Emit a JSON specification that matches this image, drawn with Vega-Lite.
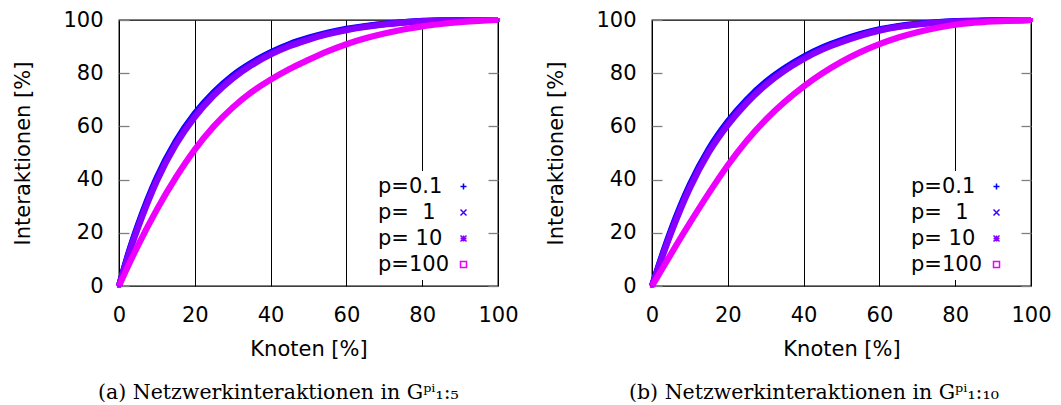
{
  "$schema": "https://vega.github.io/schema/vega-lite/v6.json",
  "background": "white",
  "padding": {"left": 12, "top": 6, "right": 0, "bottom": 0},
  "config": {
    "font": "DejaVu Sans",
    "view": {"stroke": "black", "strokeWidth": 1.3},
    "axis": {
      "labelFont": "DejaVu Sans",
      "labelFontSize": 21,
      "labelColor": "black",
      "titleFont": "DejaVu Sans",
      "titleFontSize": 21,
      "titleFontWeight": "normal",
      "titleColor": "black",
      "labelFlush": false,
      "labelOverlap": false
    },
    "legend": {
      "labelFont": "DejaVu Sans",
      "labelFontSize": 21,
      "labelColor": "black",
      "labelLimit": 0,
      "titleFont": "DejaVu Sans",
      "titleFontSize": 21
    },
    "title": {"font": "DejaVu Serif", "fontSize": 20.5, "fontWeight": "normal", "color": "black"}
  },
  "data": {
    "values": [
      {"teil": "a", "serie": "p=0.1", "knoten": 0, "interaktionen": 0},
      {"teil": "a", "serie": "p=0.1", "knoten": 2.5, "interaktionen": 12.4},
      {"teil": "a", "serie": "p=0.1", "knoten": 5, "interaktionen": 23.0},
      {"teil": "a", "serie": "p=0.1", "knoten": 10, "interaktionen": 40.9},
      {"teil": "a", "serie": "p=0.1", "knoten": 15, "interaktionen": 54.5},
      {"teil": "a", "serie": "p=0.1", "knoten": 20, "interaktionen": 64.9},
      {"teil": "a", "serie": "p=0.1", "knoten": 25, "interaktionen": 72.9},
      {"teil": "a", "serie": "p=0.1", "knoten": 30, "interaktionen": 79.2},
      {"teil": "a", "serie": "p=0.1", "knoten": 35, "interaktionen": 84.0},
      {"teil": "a", "serie": "p=0.1", "knoten": 40, "interaktionen": 87.9},
      {"teil": "a", "serie": "p=0.1", "knoten": 45, "interaktionen": 90.95},
      {"teil": "a", "serie": "p=0.1", "knoten": 50, "interaktionen": 93.3},
      {"teil": "a", "serie": "p=0.1", "knoten": 55, "interaktionen": 95.2},
      {"teil": "a", "serie": "p=0.1", "knoten": 60, "interaktionen": 96.65},
      {"teil": "a", "serie": "p=0.1", "knoten": 65, "interaktionen": 97.75},
      {"teil": "a", "serie": "p=0.1", "knoten": 70, "interaktionen": 98.6},
      {"teil": "a", "serie": "p=0.1", "knoten": 75, "interaktionen": 99.2},
      {"teil": "a", "serie": "p=0.1", "knoten": 80, "interaktionen": 99.7},
      {"teil": "a", "serie": "p=0.1", "knoten": 85, "interaktionen": 99.85},
      {"teil": "a", "serie": "p=0.1", "knoten": 90, "interaktionen": 100},
      {"teil": "a", "serie": "p=0.1", "knoten": 95, "interaktionen": 100},
      {"teil": "a", "serie": "p=0.1", "knoten": 100, "interaktionen": 100},
      {"teil": "a", "serie": "p=\u00a0\u00a01", "knoten": 0, "interaktionen": 0},
      {"teil": "a", "serie": "p=\u00a0\u00a01", "knoten": 2.5, "interaktionen": 12.0},
      {"teil": "a", "serie": "p=\u00a0\u00a01", "knoten": 5, "interaktionen": 22.4},
      {"teil": "a", "serie": "p=\u00a0\u00a01", "knoten": 10, "interaktionen": 40.2},
      {"teil": "a", "serie": "p=\u00a0\u00a01", "knoten": 15, "interaktionen": 53.8},
      {"teil": "a", "serie": "p=\u00a0\u00a01", "knoten": 20, "interaktionen": 64.2},
      {"teil": "a", "serie": "p=\u00a0\u00a01", "knoten": 25, "interaktionen": 72.25},
      {"teil": "a", "serie": "p=\u00a0\u00a01", "knoten": 30, "interaktionen": 78.6},
      {"teil": "a", "serie": "p=\u00a0\u00a01", "knoten": 35, "interaktionen": 83.5},
      {"teil": "a", "serie": "p=\u00a0\u00a01", "knoten": 40, "interaktionen": 87.45},
      {"teil": "a", "serie": "p=\u00a0\u00a01", "knoten": 45, "interaktionen": 90.55},
      {"teil": "a", "serie": "p=\u00a0\u00a01", "knoten": 50, "interaktionen": 92.95},
      {"teil": "a", "serie": "p=\u00a0\u00a01", "knoten": 55, "interaktionen": 94.9},
      {"teil": "a", "serie": "p=\u00a0\u00a01", "knoten": 60, "interaktionen": 96.4},
      {"teil": "a", "serie": "p=\u00a0\u00a01", "knoten": 65, "interaktionen": 97.55},
      {"teil": "a", "serie": "p=\u00a0\u00a01", "knoten": 70, "interaktionen": 98.45},
      {"teil": "a", "serie": "p=\u00a0\u00a01", "knoten": 75, "interaktionen": 99.1},
      {"teil": "a", "serie": "p=\u00a0\u00a01", "knoten": 80, "interaktionen": 99.6},
      {"teil": "a", "serie": "p=\u00a0\u00a01", "knoten": 85, "interaktionen": 99.8},
      {"teil": "a", "serie": "p=\u00a0\u00a01", "knoten": 90, "interaktionen": 99.95},
      {"teil": "a", "serie": "p=\u00a0\u00a01", "knoten": 95, "interaktionen": 100},
      {"teil": "a", "serie": "p=\u00a0\u00a01", "knoten": 100, "interaktionen": 100},
      {"teil": "a", "serie": "p=\u00a010", "knoten": 0, "interaktionen": 0},
      {"teil": "a", "serie": "p=\u00a010", "knoten": 2.5, "interaktionen": 11.6},
      {"teil": "a", "serie": "p=\u00a010", "knoten": 5, "interaktionen": 21.8},
      {"teil": "a", "serie": "p=\u00a010", "knoten": 10, "interaktionen": 39.5},
      {"teil": "a", "serie": "p=\u00a010", "knoten": 15, "interaktionen": 53.1},
      {"teil": "a", "serie": "p=\u00a010", "knoten": 20, "interaktionen": 63.5},
      {"teil": "a", "serie": "p=\u00a010", "knoten": 25, "interaktionen": 71.6},
      {"teil": "a", "serie": "p=\u00a010", "knoten": 30, "interaktionen": 78.0},
      {"teil": "a", "serie": "p=\u00a010", "knoten": 35, "interaktionen": 83.0},
      {"teil": "a", "serie": "p=\u00a010", "knoten": 40, "interaktionen": 87.0},
      {"teil": "a", "serie": "p=\u00a010", "knoten": 45, "interaktionen": 90.15},
      {"teil": "a", "serie": "p=\u00a010", "knoten": 50, "interaktionen": 92.6},
      {"teil": "a", "serie": "p=\u00a010", "knoten": 55, "interaktionen": 94.6},
      {"teil": "a", "serie": "p=\u00a010", "knoten": 60, "interaktionen": 96.15},
      {"teil": "a", "serie": "p=\u00a010", "knoten": 65, "interaktionen": 97.35},
      {"teil": "a", "serie": "p=\u00a010", "knoten": 70, "interaktionen": 98.3},
      {"teil": "a", "serie": "p=\u00a010", "knoten": 75, "interaktionen": 99.0},
      {"teil": "a", "serie": "p=\u00a010", "knoten": 80, "interaktionen": 99.5},
      {"teil": "a", "serie": "p=\u00a010", "knoten": 85, "interaktionen": 99.75},
      {"teil": "a", "serie": "p=\u00a010", "knoten": 90, "interaktionen": 99.9},
      {"teil": "a", "serie": "p=\u00a010", "knoten": 95, "interaktionen": 100},
      {"teil": "a", "serie": "p=\u00a010", "knoten": 100, "interaktionen": 100},
      {"teil": "a", "serie": "p=100", "knoten": 0, "interaktionen": 0},
      {"teil": "a", "serie": "p=100", "knoten": 2.5, "interaktionen": 7.8},
      {"teil": "a", "serie": "p=100", "knoten": 5, "interaktionen": 15.2},
      {"teil": "a", "serie": "p=100", "knoten": 10, "interaktionen": 28.8},
      {"teil": "a", "serie": "p=100", "knoten": 15, "interaktionen": 40.8},
      {"teil": "a", "serie": "p=100", "knoten": 20, "interaktionen": 51.3},
      {"teil": "a", "serie": "p=100", "knoten": 25, "interaktionen": 60.0},
      {"teil": "a", "serie": "p=100", "knoten": 30, "interaktionen": 67.1},
      {"teil": "a", "serie": "p=100", "knoten": 35, "interaktionen": 72.9},
      {"teil": "a", "serie": "p=100", "knoten": 40, "interaktionen": 77.6},
      {"teil": "a", "serie": "p=100", "knoten": 45, "interaktionen": 81.6},
      {"teil": "a", "serie": "p=100", "knoten": 50, "interaktionen": 85.0},
      {"teil": "a", "serie": "p=100", "knoten": 55, "interaktionen": 88.2},
      {"teil": "a", "serie": "p=100", "knoten": 60, "interaktionen": 90.9},
      {"teil": "a", "serie": "p=100", "knoten": 65, "interaktionen": 93.1},
      {"teil": "a", "serie": "p=100", "knoten": 70, "interaktionen": 94.9},
      {"teil": "a", "serie": "p=100", "knoten": 75, "interaktionen": 96.4},
      {"teil": "a", "serie": "p=100", "knoten": 80, "interaktionen": 97.6},
      {"teil": "a", "serie": "p=100", "knoten": 85, "interaktionen": 98.5},
      {"teil": "a", "serie": "p=100", "knoten": 90, "interaktionen": 99.2},
      {"teil": "a", "serie": "p=100", "knoten": 95, "interaktionen": 99.7},
      {"teil": "a", "serie": "p=100", "knoten": 100, "interaktionen": 100},
      {"teil": "b", "serie": "p=0.1", "knoten": 0, "interaktionen": 0},
      {"teil": "b", "serie": "p=0.1", "knoten": 2.5, "interaktionen": 10.9},
      {"teil": "b", "serie": "p=0.1", "knoten": 5, "interaktionen": 21.0},
      {"teil": "b", "serie": "p=0.1", "knoten": 10, "interaktionen": 38.2},
      {"teil": "b", "serie": "p=0.1", "knoten": 15, "interaktionen": 51.6},
      {"teil": "b", "serie": "p=0.1", "knoten": 20, "interaktionen": 61.9},
      {"teil": "b", "serie": "p=0.1", "knoten": 25, "interaktionen": 70.1},
      {"teil": "b", "serie": "p=0.1", "knoten": 30, "interaktionen": 76.7},
      {"teil": "b", "serie": "p=0.1", "knoten": 35, "interaktionen": 81.9},
      {"teil": "b", "serie": "p=0.1", "knoten": 40, "interaktionen": 86.2},
      {"teil": "b", "serie": "p=0.1", "knoten": 45, "interaktionen": 89.7},
      {"teil": "b", "serie": "p=0.1", "knoten": 50, "interaktionen": 92.4},
      {"teil": "b", "serie": "p=0.1", "knoten": 55, "interaktionen": 94.7},
      {"teil": "b", "serie": "p=0.1", "knoten": 60, "interaktionen": 96.5},
      {"teil": "b", "serie": "p=0.1", "knoten": 65, "interaktionen": 97.75},
      {"teil": "b", "serie": "p=0.1", "knoten": 70, "interaktionen": 98.6},
      {"teil": "b", "serie": "p=0.1", "knoten": 75, "interaktionen": 99.15},
      {"teil": "b", "serie": "p=0.1", "knoten": 80, "interaktionen": 99.55},
      {"teil": "b", "serie": "p=0.1", "knoten": 85, "interaktionen": 99.7},
      {"teil": "b", "serie": "p=0.1", "knoten": 90, "interaktionen": 99.9},
      {"teil": "b", "serie": "p=0.1", "knoten": 95, "interaktionen": 99.9},
      {"teil": "b", "serie": "p=0.1", "knoten": 100, "interaktionen": 100},
      {"teil": "b", "serie": "p=\u00a0\u00a01", "knoten": 0, "interaktionen": 0},
      {"teil": "b", "serie": "p=\u00a0\u00a01", "knoten": 2.5, "interaktionen": 10.5},
      {"teil": "b", "serie": "p=\u00a0\u00a01", "knoten": 5, "interaktionen": 20.4},
      {"teil": "b", "serie": "p=\u00a0\u00a01", "knoten": 10, "interaktionen": 37.5},
      {"teil": "b", "serie": "p=\u00a0\u00a01", "knoten": 15, "interaktionen": 50.9},
      {"teil": "b", "serie": "p=\u00a0\u00a01", "knoten": 20, "interaktionen": 61.2},
      {"teil": "b", "serie": "p=\u00a0\u00a01", "knoten": 25, "interaktionen": 69.45},
      {"teil": "b", "serie": "p=\u00a0\u00a01", "knoten": 30, "interaktionen": 76.1},
      {"teil": "b", "serie": "p=\u00a0\u00a01", "knoten": 35, "interaktionen": 81.4},
      {"teil": "b", "serie": "p=\u00a0\u00a01", "knoten": 40, "interaktionen": 85.75},
      {"teil": "b", "serie": "p=\u00a0\u00a01", "knoten": 45, "interaktionen": 89.3},
      {"teil": "b", "serie": "p=\u00a0\u00a01", "knoten": 50, "interaktionen": 92.05},
      {"teil": "b", "serie": "p=\u00a0\u00a01", "knoten": 55, "interaktionen": 94.4},
      {"teil": "b", "serie": "p=\u00a0\u00a01", "knoten": 60, "interaktionen": 96.25},
      {"teil": "b", "serie": "p=\u00a0\u00a01", "knoten": 65, "interaktionen": 97.55},
      {"teil": "b", "serie": "p=\u00a0\u00a01", "knoten": 70, "interaktionen": 98.45},
      {"teil": "b", "serie": "p=\u00a0\u00a01", "knoten": 75, "interaktionen": 99.05},
      {"teil": "b", "serie": "p=\u00a0\u00a01", "knoten": 80, "interaktionen": 99.45},
      {"teil": "b", "serie": "p=\u00a0\u00a01", "knoten": 85, "interaktionen": 99.65},
      {"teil": "b", "serie": "p=\u00a0\u00a01", "knoten": 90, "interaktionen": 99.85},
      {"teil": "b", "serie": "p=\u00a0\u00a01", "knoten": 95, "interaktionen": 99.9},
      {"teil": "b", "serie": "p=\u00a0\u00a01", "knoten": 100, "interaktionen": 100},
      {"teil": "b", "serie": "p=\u00a010", "knoten": 0, "interaktionen": 0},
      {"teil": "b", "serie": "p=\u00a010", "knoten": 2.5, "interaktionen": 10.1},
      {"teil": "b", "serie": "p=\u00a010", "knoten": 5, "interaktionen": 19.8},
      {"teil": "b", "serie": "p=\u00a010", "knoten": 10, "interaktionen": 36.8},
      {"teil": "b", "serie": "p=\u00a010", "knoten": 15, "interaktionen": 50.2},
      {"teil": "b", "serie": "p=\u00a010", "knoten": 20, "interaktionen": 60.5},
      {"teil": "b", "serie": "p=\u00a010", "knoten": 25, "interaktionen": 68.8},
      {"teil": "b", "serie": "p=\u00a010", "knoten": 30, "interaktionen": 75.5},
      {"teil": "b", "serie": "p=\u00a010", "knoten": 35, "interaktionen": 80.9},
      {"teil": "b", "serie": "p=\u00a010", "knoten": 40, "interaktionen": 85.3},
      {"teil": "b", "serie": "p=\u00a010", "knoten": 45, "interaktionen": 88.9},
      {"teil": "b", "serie": "p=\u00a010", "knoten": 50, "interaktionen": 91.7},
      {"teil": "b", "serie": "p=\u00a010", "knoten": 55, "interaktionen": 94.1},
      {"teil": "b", "serie": "p=\u00a010", "knoten": 60, "interaktionen": 96.0},
      {"teil": "b", "serie": "p=\u00a010", "knoten": 65, "interaktionen": 97.35},
      {"teil": "b", "serie": "p=\u00a010", "knoten": 70, "interaktionen": 98.3},
      {"teil": "b", "serie": "p=\u00a010", "knoten": 75, "interaktionen": 98.95},
      {"teil": "b", "serie": "p=\u00a010", "knoten": 80, "interaktionen": 99.35},
      {"teil": "b", "serie": "p=\u00a010", "knoten": 85, "interaktionen": 99.6},
      {"teil": "b", "serie": "p=\u00a010", "knoten": 90, "interaktionen": 99.8},
      {"teil": "b", "serie": "p=\u00a010", "knoten": 95, "interaktionen": 99.9},
      {"teil": "b", "serie": "p=\u00a010", "knoten": 100, "interaktionen": 100},
      {"teil": "b", "serie": "p=100", "knoten": 0, "interaktionen": 0},
      {"teil": "b", "serie": "p=100", "knoten": 2.5, "interaktionen": 6.0},
      {"teil": "b", "serie": "p=100", "knoten": 5, "interaktionen": 12.0},
      {"teil": "b", "serie": "p=100", "knoten": 10, "interaktionen": 23.7},
      {"teil": "b", "serie": "p=100", "knoten": 15, "interaktionen": 34.9},
      {"teil": "b", "serie": "p=100", "knoten": 20, "interaktionen": 45.4},
      {"teil": "b", "serie": "p=100", "knoten": 25, "interaktionen": 54.6},
      {"teil": "b", "serie": "p=100", "knoten": 30, "interaktionen": 62.5},
      {"teil": "b", "serie": "p=100", "knoten": 35, "interaktionen": 69.2},
      {"teil": "b", "serie": "p=100", "knoten": 40, "interaktionen": 75.0},
      {"teil": "b", "serie": "p=100", "knoten": 45, "interaktionen": 80.0},
      {"teil": "b", "serie": "p=100", "knoten": 50, "interaktionen": 84.3},
      {"teil": "b", "serie": "p=100", "knoten": 55, "interaktionen": 87.9},
      {"teil": "b", "serie": "p=100", "knoten": 60, "interaktionen": 90.9},
      {"teil": "b", "serie": "p=100", "knoten": 65, "interaktionen": 93.4},
      {"teil": "b", "serie": "p=100", "knoten": 70, "interaktionen": 95.4},
      {"teil": "b", "serie": "p=100", "knoten": 75, "interaktionen": 97.0},
      {"teil": "b", "serie": "p=100", "knoten": 80, "interaktionen": 98.2},
      {"teil": "b", "serie": "p=100", "knoten": 85, "interaktionen": 99.0},
      {"teil": "b", "serie": "p=100", "knoten": 90, "interaktionen": 99.5},
      {"teil": "b", "serie": "p=100", "knoten": 95, "interaktionen": 99.8},
      {"teil": "b", "serie": "p=100", "knoten": 100, "interaktionen": 100}
    ]
  },
  "hconcat": [
    {
      "width": 379,
      "height": 266,
      "title": {"text": "(a) Netzwerkinteraktionen in Gᵖⁱ₁:₅", "orient": "bottom", "anchor": "start", "frame": "group", "dx": -21, "offset": 24},
      "transform": [{"filter": "datum.teil === 'a'"}],
      "layer": [
        {
          "mark": {"type": "point", "filled": false, "size": 9, "strokeWidth": 1.2, "opacity": 1},
          "encoding": {
            "x": {"field": "knoten", "type": "quantitative", "title": "Knoten [%]", "scale": {"domain": [0, 100], "nice": false}},
            "y": {"field": "interaktionen", "type": "quantitative", "scale": {"domain": [0, 100], "nice": false},
                  "axis": {"orient": "right", "title": null, "labels": false, "domain": false, "grid": false, "values": [0, 20, 40, 60, 80, 100], "tickSize": -10, "tickColor": "#808080", "tickWidth": 1.3}},
            "color": {"field": "serie", "type": "nominal",
                      "scale": {"domain": ["p=0.1", "p=\u00a0\u00a01", "p=\u00a010", "p=100"], "range": ["#0000ff", "#4400ff", "#8800ff", "#ee00ff"]},
                      "legend": {"title": "\u00a0", "titleOrient": "left", "titlePadding": 85, "orient": "none", "legendX": 244, "legendY": 151, "labelAlign": "left", "labelOffset": -96, "symbolSize": 36, "symbolStrokeWidth": 1.5, "rowPadding": 4, "fillColor": "white", "padding": 5}},
            "shape": {"field": "serie", "type": "nominal",
                      "scale": {"domain": ["p=0.1", "p=\u00a0\u00a01", "p=\u00a010", "p=100"], "range": ["M-1,0H1M0,-1V1", "M-1,-1L1,1M-1,1L1,-1", "M-1,0H1M0,-1V1M-1,-1L1,1M-1,1L1,-1", "M-1,-1H1V1H-1Z"]},
                      "legend": {"title": "\u00a0", "titleOrient": "left", "titlePadding": 85, "orient": "none", "legendX": 244, "legendY": 151, "labelAlign": "left", "labelOffset": -96, "symbolSize": 36, "symbolStrokeWidth": 1.5, "rowPadding": 4, "fillColor": "white", "padding": 5}}
          }
        },
        {
          "mark": {"type": "line", "strokeWidth": 6.2, "strokeCap": "butt", "interpolate": "monotone"},
          "encoding": {
            "x": {"field": "knoten", "type": "quantitative", "title": "Knoten [%]", "scale": {"domain": [0, 100], "nice": false},
                  "axis": {"values": [0, 20, 40, 60, 80, 100], "grid": true, "gridColor": "black", "gridWidth": 1, "gridOpacity": 1, "ticks": false, "domain": false, "labelPadding": 18, "titlePadding": 13}},
            "y": {"field": "interaktionen", "type": "quantitative", "title": "Interaktionen [%]", "scale": {"domain": [0, 100], "nice": false},
                  "axis": {"orient": "left", "values": [0, 20, 40, 60, 80, 100], "grid": false, "domain": false, "tickSize": -10, "tickColor": "#808080", "tickWidth": 1.3, "labelPadding": 26, "titlePadding": 29}},
            "color": {"field": "serie", "type": "nominal"}
          }
        }
      ],
      "resolve": {"axis": {"y": "independent"}}
    },
    {
      "width": 379,
      "height": 266,
      "title": {"text": "(b) Netzwerkinteraktionen in Gᵖⁱ₁:₁₀", "orient": "bottom", "anchor": "start", "frame": "group", "dx": -23, "offset": 24},
      "transform": [{"filter": "datum.teil === 'b'"}],
      "layer": [
        {
          "mark": {"type": "point", "filled": false, "size": 9, "strokeWidth": 1.2, "opacity": 1},
          "encoding": {
            "x": {"field": "knoten", "type": "quantitative", "title": "Knoten [%]", "scale": {"domain": [0, 100], "nice": false}},
            "y": {"field": "interaktionen", "type": "quantitative", "scale": {"domain": [0, 100], "nice": false},
                  "axis": {"orient": "right", "title": null, "labels": false, "domain": false, "grid": false, "values": [0, 20, 40, 60, 80, 100], "tickSize": -10, "tickColor": "#808080", "tickWidth": 1.3}},
            "color": {"field": "serie", "type": "nominal",
                      "scale": {"domain": ["p=0.1", "p=\u00a0\u00a01", "p=\u00a010", "p=100"], "range": ["#0000ff", "#4400ff", "#8800ff", "#ee00ff"]},
                      "legend": {"title": "\u00a0", "titleOrient": "left", "titlePadding": 85, "orient": "none", "legendX": 244, "legendY": 151, "labelAlign": "left", "labelOffset": -96, "symbolSize": 36, "symbolStrokeWidth": 1.5, "rowPadding": 4, "fillColor": "white", "padding": 5}},
            "shape": {"field": "serie", "type": "nominal",
                      "scale": {"domain": ["p=0.1", "p=\u00a0\u00a01", "p=\u00a010", "p=100"], "range": ["M-1,0H1M0,-1V1", "M-1,-1L1,1M-1,1L1,-1", "M-1,0H1M0,-1V1M-1,-1L1,1M-1,1L1,-1", "M-1,-1H1V1H-1Z"]},
                      "legend": {"title": "\u00a0", "titleOrient": "left", "titlePadding": 85, "orient": "none", "legendX": 244, "legendY": 151, "labelAlign": "left", "labelOffset": -96, "symbolSize": 36, "symbolStrokeWidth": 1.5, "rowPadding": 4, "fillColor": "white", "padding": 5}}
          }
        },
        {
          "mark": {"type": "line", "strokeWidth": 6.2, "strokeCap": "butt", "interpolate": "monotone"},
          "encoding": {
            "x": {"field": "knoten", "type": "quantitative", "title": "Knoten [%]", "scale": {"domain": [0, 100], "nice": false},
                  "axis": {"values": [0, 20, 40, 60, 80, 100], "grid": true, "gridColor": "black", "gridWidth": 1, "gridOpacity": 1, "ticks": false, "domain": false, "labelPadding": 18, "titlePadding": 13}},
            "y": {"field": "interaktionen", "type": "quantitative", "title": "Interaktionen [%]", "scale": {"domain": [0, 100], "nice": false},
                  "axis": {"orient": "left", "values": [0, 20, 40, 60, 80, 100], "grid": false, "domain": false, "tickSize": -10, "tickColor": "#808080", "tickWidth": 1.3, "labelPadding": 26, "titlePadding": 29}},
            "color": {"field": "serie", "type": "nominal"}
          }
        }
      ],
      "resolve": {"axis": {"y": "independent"}}
    }
  ],
  "spacing": 154,
  "bounds": "flush",
  "resolve": {
    "scale": {"color": "independent", "shape": "independent"},
    "legend": {"color": "independent", "shape": "independent"}
  }
}
